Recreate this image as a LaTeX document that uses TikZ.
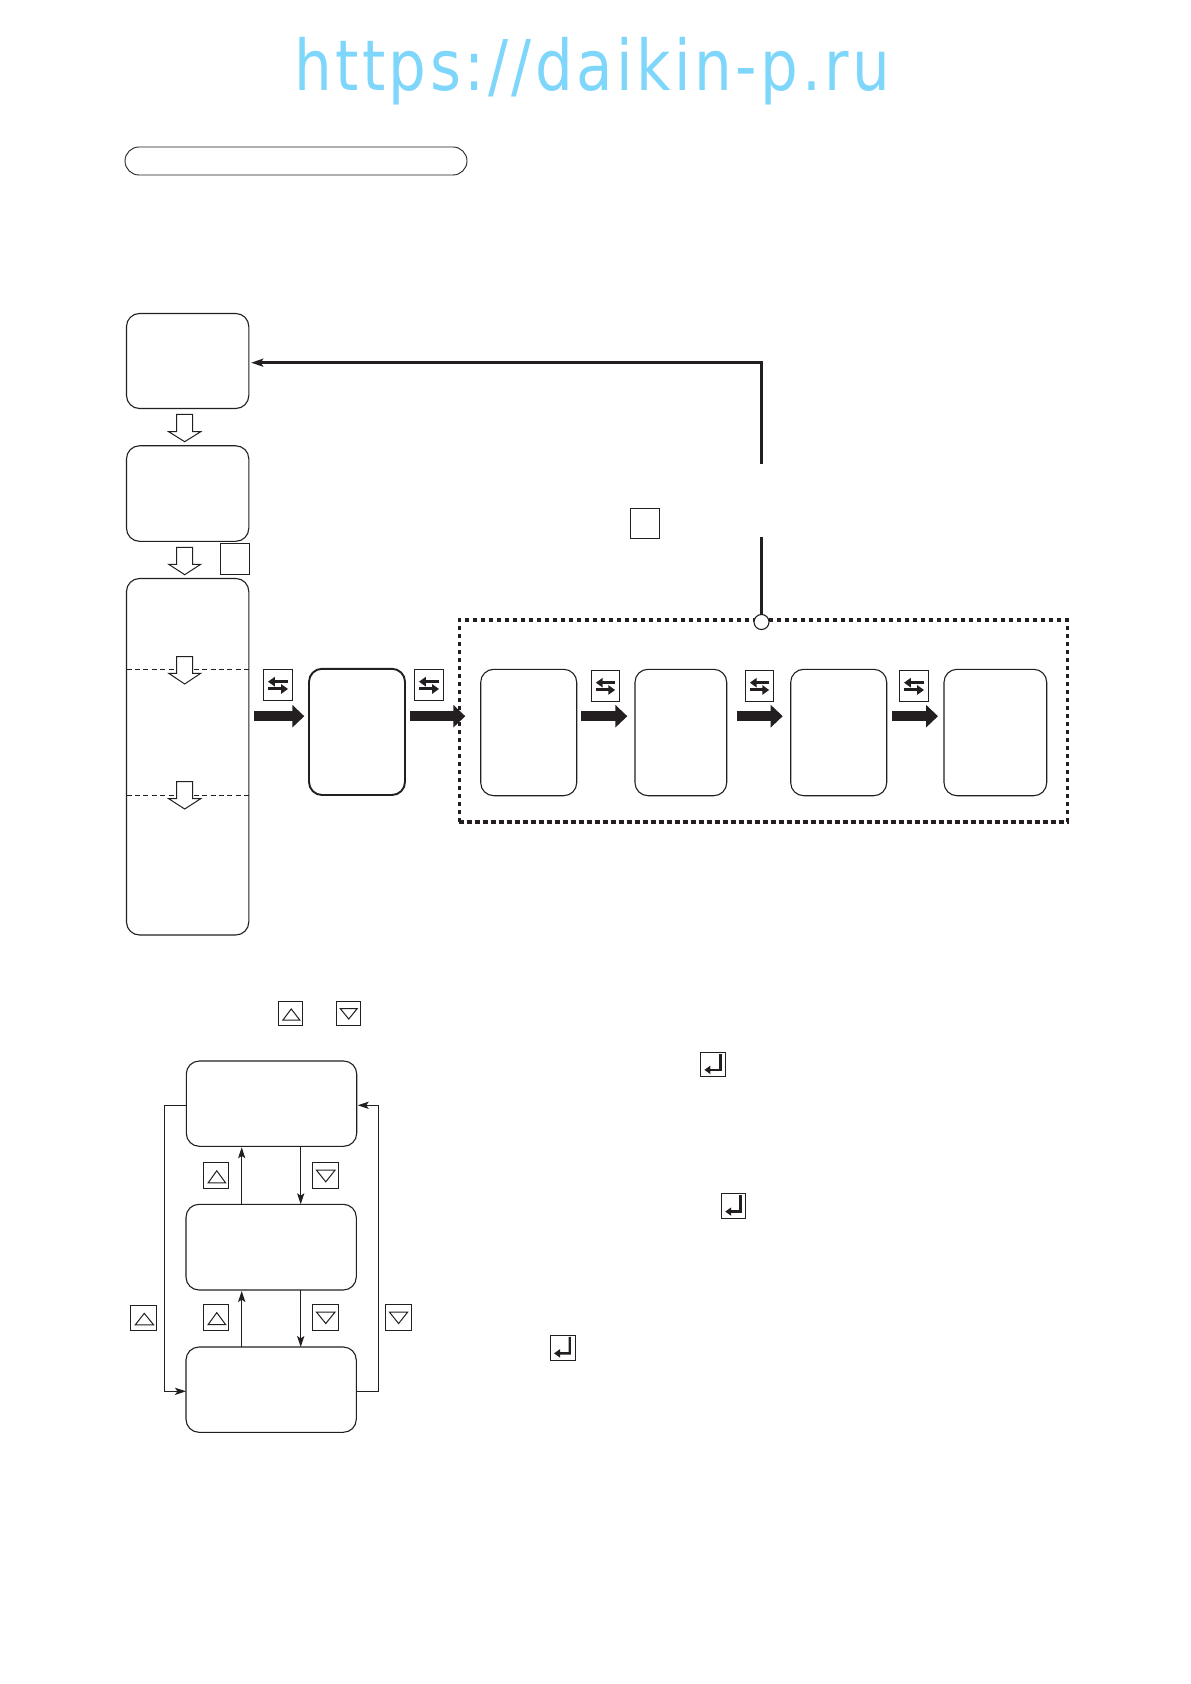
\documentclass[tikz,border=0pt]{standalone}
\usepackage{fontspec}
\usetikzlibrary{arrows.meta,calc}
\newfontfamily\wmfont[LetterSpace=5.9]{DejaVu Sans}
\definecolor{ink}{HTML}{231F20}
\definecolor{wm}{HTML}{7FD6FB}
\tikzset{
  every node/.style={inner sep=0pt,outer sep=0pt},
  thinbox/.style={draw=ink,line width=.55pt,rounded corners=6.5pt,fill=white},
  boldbox/.style={draw=ink,line width=.95pt,rounded corners=6.5pt,fill=white},
  keybox/.style={draw=ink,line width=.5pt,fill=white},
  pillbox/.style={draw=ink,line width=.45pt,rounded corners=7pt},
  groupbox/.style={draw=ink,line width=1.6pt,dash pattern=on 2.2pt off 1.8pt},
  hollow/.style={draw=ink,line width=.5pt,fill=white,line join=miter},
  sep/.style={draw=ink,line width=.4pt,dash pattern=on 2.5pt off 1.7pt},
  conn/.style={draw=ink,line width=.55pt},
  contip/.style={-{Stealth[length=5.5pt,width=3.6pt,inset=1.2pt]}},
  thickconn/.style={draw=ink,line width=1.35pt},
  bigarrow/.style={draw=ink,line width=5pt,-{Triangle[length=6pt,width=11pt]}},
  glyph/.style={draw=ink,line width=.5pt,line join=miter},
  swaparrow/.style={draw=ink,line width=1.5pt,-{Triangle[length=3.4pt,width=4.6pt]}},
  enterarrow/.style={draw=ink,line width=1.15pt,line join=miter,-{Triangle[length=3pt,width=4pt]}},
}
% name, x1, y1, x2, y2, style
\newcommand{\bx}[6]{\node[#6,minimum width={(#4-#2)*0.5pt},minimum height={(#5-#3)*0.5pt}] (#1) at ({(#2+#4)/2},{(#3+#5)/2}) {};}
% hollow down arrow: centre x, top, shoulder, tip
\newcommand{\hollowdown}[4]{\draw[hollow] (#1-8,#2) -- (#1+8,#2) -- (#1+8,#3) -- (#1+16,#3) -- (#1,#4) -- (#1-16,#3) -- (#1-8,#3) -- cycle;}
% keys: name, x1, y1, x2, y2
\newcommand{\upkey}[5]{\bx{#1}{#2}{#3}{#4}{#5}{keybox}
  \draw[glyph] ($(#1.south west)!.19!(#1.south east)+(0,{.22*(#5-#3)*0.5pt})$) -- ($(#1.south west)!.88!(#1.south east)+(0,{.22*(#5-#3)*0.5pt})$) -- ($(#1.south west)!.53!(#1.south east)+(0,{.68*(#5-#3)*0.5pt})$) -- cycle;}
\newcommand{\downkey}[5]{\bx{#1}{#2}{#3}{#4}{#5}{keybox}
  \draw[glyph] ($(#1.north west)!.16!(#1.north east)-(0,{.3*(#5-#3)*0.5pt})$) -- ($(#1.north west)!.86!(#1.north east)-(0,{.3*(#5-#3)*0.5pt})$) -- ($(#1.north west)!.51!(#1.north east)-(0,{.74*(#5-#3)*0.5pt})$) -- cycle;}
\newcommand{\swapkey}[5]{\bx{#1}{#2}{#3}{#4}{#5}{keybox}
  \draw[swaparrow] ($(#1.north west)!.85!(#1.north east)-(0,{.40*(#5-#3)*0.5pt})$) -- ($(#1.north west)!.16!(#1.north east)-(0,{.40*(#5-#3)*0.5pt})$);
  \draw[swaparrow] ($(#1.north west)!.15!(#1.north east)-(0,{.635*(#5-#3)*0.5pt})$) -- ($(#1.north west)!.84!(#1.north east)-(0,{.635*(#5-#3)*0.5pt})$);}
\newcommand{\enterkey}[5]{\bx{#1}{#2}{#3}{#4}{#5}{keybox}
  \draw[enterarrow] ($(#1.north west)!.79!(#1.north east)-(0,{.07*(#5-#3)*0.5pt})$) -- ($(#1.north west)!.79!(#1.north east)-(0,{.72*(#5-#3)*0.5pt})$) -- ($(#1.north west)!.16!(#1.north east)-(0,{.72*(#5-#3)*0.5pt})$);}
\begin{document}
\begin{tikzpicture}[x=0.5pt,y=-0.5pt]
\useasboundingbox (0,0) rectangle (1190,1684);
% watermark
\node[anchor=base west,xscale=.85] (wmark) at (294,91) {\wmfont\fontsize{35pt}{35pt}\selectfont\color{wm}https://daikin-p.ru};
% heading pill
\bx{pill}{125}{147}{467}{175}{pillbox}
% left column
\bx{cA}{126.5}{313.5}{248.8}{408.5}{thinbox}
\bx{cB}{126.5}{445.8}{248.8}{541.3}{thinbox}
\bx{cC}{126.5}{578.5}{248.8}{935}{thinbox}
\draw[sep] (cC.west |- 0,669.5) -- (cC.east |- 0,669.5);
\draw[sep] (cC.west |- 0,795.5) -- (cC.east |- 0,795.5);
\hollowdown{184.7}{414.5}{431.7}{441.7}
\hollowdown{184.7}{547.3}{564.3}{574.7}
\hollowdown{184.7}{656.7}{673.3}{684}
\hollowdown{184.7}{781.7}{798.7}{809}
\bx{sqA}{220.3}{543.3}{249.7}{574.3}{keybox}
% flow row
\bx{fbold}{309}{668.8}{405}{795}{boldbox}
\bx{group}{459.3}{620}{1067.3}{822}{groupbox}
\bx{f1}{480.7}{669.3}{576.7}{795.7}{thinbox}
\bx{f2}{635}{669.3}{726.7}{795.7}{thinbox}
\bx{f3}{790.7}{669.3}{886.7}{795.7}{thinbox}
\bx{f4}{944}{669.3}{1046.7}{795.7}{thinbox}
\swapkey{s1}{263.3}{669.3}{292.7}{700.3}
\swapkey{s2}{414.3}{669.3}{443.7}{700.3}
\swapkey{s3}{591.3}{670.3}{619.7}{701.3}
\swapkey{s4}{745.3}{670.3}{773.7}{701.3}
\swapkey{s5}{899.3}{670.3}{928.7}{701.3}
% big arrows
\coordinate (rowy) at (0,716.2);
\draw[bigarrow] ([xshift=2.65pt]cC.east |- rowy) -- ([xshift=-2.35pt]fbold.west |- rowy);
\draw[bigarrow] ([xshift=2.5pt]fbold.east |- rowy) -- ([xshift=3pt]group.west |- rowy);
\draw[bigarrow] ([xshift=2.3pt]f1.east |- rowy) -- ([xshift=-3.85pt]f2.west |- rowy);
\draw[bigarrow] ([xshift=5pt]f2.east |- rowy) -- ([xshift=-4pt]f3.west |- rowy);
\draw[bigarrow] ([xshift=2.65pt]f3.east |- rowy) -- ([xshift=-3pt]f4.west |- rowy);
% feedback
\node[draw=ink,line width=.55pt,fill=white,circle,minimum size=7.5pt] (junc) at (761.5,622) {};
\coordinate (gapT) at (761.5,464);
\coordinate (gapB) at (761.5,536.7);
\coordinate (fbY) at (0,362.7);
\draw[thickconn] (gapB) -- (junc.north);
\draw[thickconn,-{Stealth[length=6pt,width=4pt,inset=1.2pt]},shorten >=1.2pt,line join=miter] (gapT) |- (cA.east |- fbY);
\bx{sqB}{630.3}{508.3}{659.7}{538.7}{keybox}
% lower keys
\upkey{kU}{278.3}{1001.3}{302.7}{1025.3}
\downkey{kD}{336.3}{1001.3}{360.7}{1025.3}
\enterkey{e1}{700.3}{1052.3}{725.7}{1076.7}
\enterkey{e2}{721.3}{1193.3}{745.7}{1218.7}
\enterkey{e3}{550}{1335}{575}{1360.5}
% menu loop
\bx{mA}{186.3}{1061}{356.7}{1146.3}{thinbox}
\bx{mB}{186}{1204.3}{356.3}{1290}{thinbox}
\bx{mC}{186}{1347}{356.3}{1432.3}{thinbox}
\coordinate (upX) at (241.7,0);
\coordinate (dnX) at (300.7,0);
\coordinate (lpL) at (164.3,1105.3);
\coordinate (lpR) at (378.5,1391.3);
\draw[conn,contip,shorten >=.5pt] (mB.north -| upX) -- (mA.south -| upX);
\draw[conn,contip] (mA.south -| dnX) -- (mB.north -| dnX);
\draw[conn,contip,shorten >=.5pt] (mC.north -| upX) -- (mB.south -| upX);
\draw[conn,contip] (mB.south -| dnX) -- (mC.north -| dnX);
\draw[conn,contip] (mA.west |- lpL) -- (lpL) |- (mC.west |- lpR);
\draw[conn,contip,shorten >=.5pt] (mC.east |- lpR) -- (lpR) |- (mA.east |- lpL);
\upkey{k1}{203.3}{1162.3}{228.7}{1188.7}
\downkey{k2}{312.3}{1162.3}{338.7}{1188.7}
\upkey{k3}{130.3}{1305.3}{156.7}{1330.3}
\upkey{k4}{203.3}{1304.3}{228.7}{1330.3}
\downkey{k5}{312.3}{1304.3}{338.7}{1330.3}
\downkey{k6}{385.3}{1304.3}{411.3}{1330.3}
\end{tikzpicture}
\end{document}
